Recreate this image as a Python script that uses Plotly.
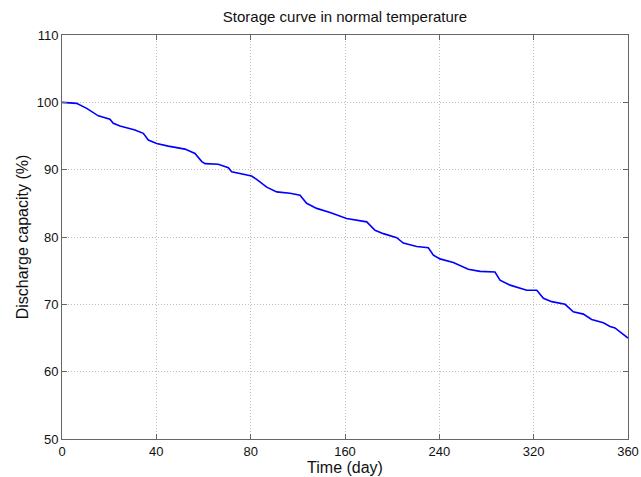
import plotly.graph_objects as go

days = [0, 9.3, 15.7, 23.1, 30.5, 32.6, 36.9, 46.4, 51.7, 54.9, 60.2, 67.6, 78.2, 84.6,
        88.9, 91, 99.4, 105.8, 107.9, 114.3, 120.6, 123.8, 130.2, 136.6, 145, 151.4,
        155.6, 162, 170.5, 181, 193.8, 199.1, 204.4, 212.9, 217.1, 225.6, 233, 236.2,
        240.4, 248.9, 254.2, 258.4, 265.9, 275.4, 278.6, 285, 295.6, 302, 306.2, 311.5,
        320, 325.2, 331.6, 336.9, 344.3, 348.6, 351.7, 360]
capacity = [100.0, 99.85, 99.1, 98.0, 97.5, 96.9, 96.5, 95.9, 95.4, 94.4, 93.9, 93.5,
            93.05, 92.4, 91.2, 90.9, 90.8, 90.3, 89.7, 89.35, 89.05, 88.55, 87.4, 86.7,
            86.5, 86.2, 85.0, 84.25, 83.65, 82.75, 82.25, 81.0, 80.5, 79.9, 79.1, 78.6,
            78.4, 77.3, 76.75, 76.2, 75.7, 75.2, 74.9, 74.8, 73.6, 72.85, 72.1, 72.1,
            70.9, 70.4, 70.0, 68.9, 68.55, 67.75, 67.25, 66.7, 66.5, 65.0]

x_tickvals = [0, 60, 120, 180, 240, 300, 360]
x_ticktext = ["0", "40", "80", "160", "240", "320", "360"]
y_tickvals = [50, 60, 70, 80, 90, 100, 110]

FONT = "Liberation Sans, Arial"

fig = go.Figure()
fig.add_trace(go.Scatter(x=days, y=capacity, mode="lines",
                         line=dict(color="#0000ff", width=1.6), showlegend=False))

axis_common = dict(showline=True, linecolor="#666666", linewidth=1, mirror="ticks",
                   ticks="inside", ticklen=5, tickcolor="#666666",
                   showgrid=True, gridcolor="#bdbdbd", griddash="1px,2px", gridwidth=1,
                   zeroline=False, automargin=False,
                   tickfont=dict(family=FONT, size=13, color="#111"))

fig.update_xaxes(range=[0, 360], tickvals=x_tickvals, ticktext=x_ticktext,
                 title=dict(text="Time (day)", standoff=0,
                            font=dict(family=FONT, size=16, color="#111")),
                 **axis_common)
fig.update_yaxes(range=[50, 110], tickvals=y_tickvals,
                 title=dict(text="Discharge capacity (%)", standoff=4,
                            font=dict(family=FONT, size=16, color="#111")),
                 **axis_common)

fig.update_layout(
    width=641, height=477,
    margin=dict(l=62, r=13, t=35, b=38, autoexpand=False),
    plot_bgcolor="white", paper_bgcolor="white",
    title=dict(text="Storage curve in normal temperature", x=0.5, xanchor="center",
               xref="paper", y=1 - 17 / 477, yref="container", yanchor="middle",
               automargin=False,
               font=dict(family=FONT, size=15, color="#111")),
)

fig.write_html("out.html", config={"displayModeBar": False},
               post_script="document.body.style.margin='0';document.body.style.overflow='hidden';")
